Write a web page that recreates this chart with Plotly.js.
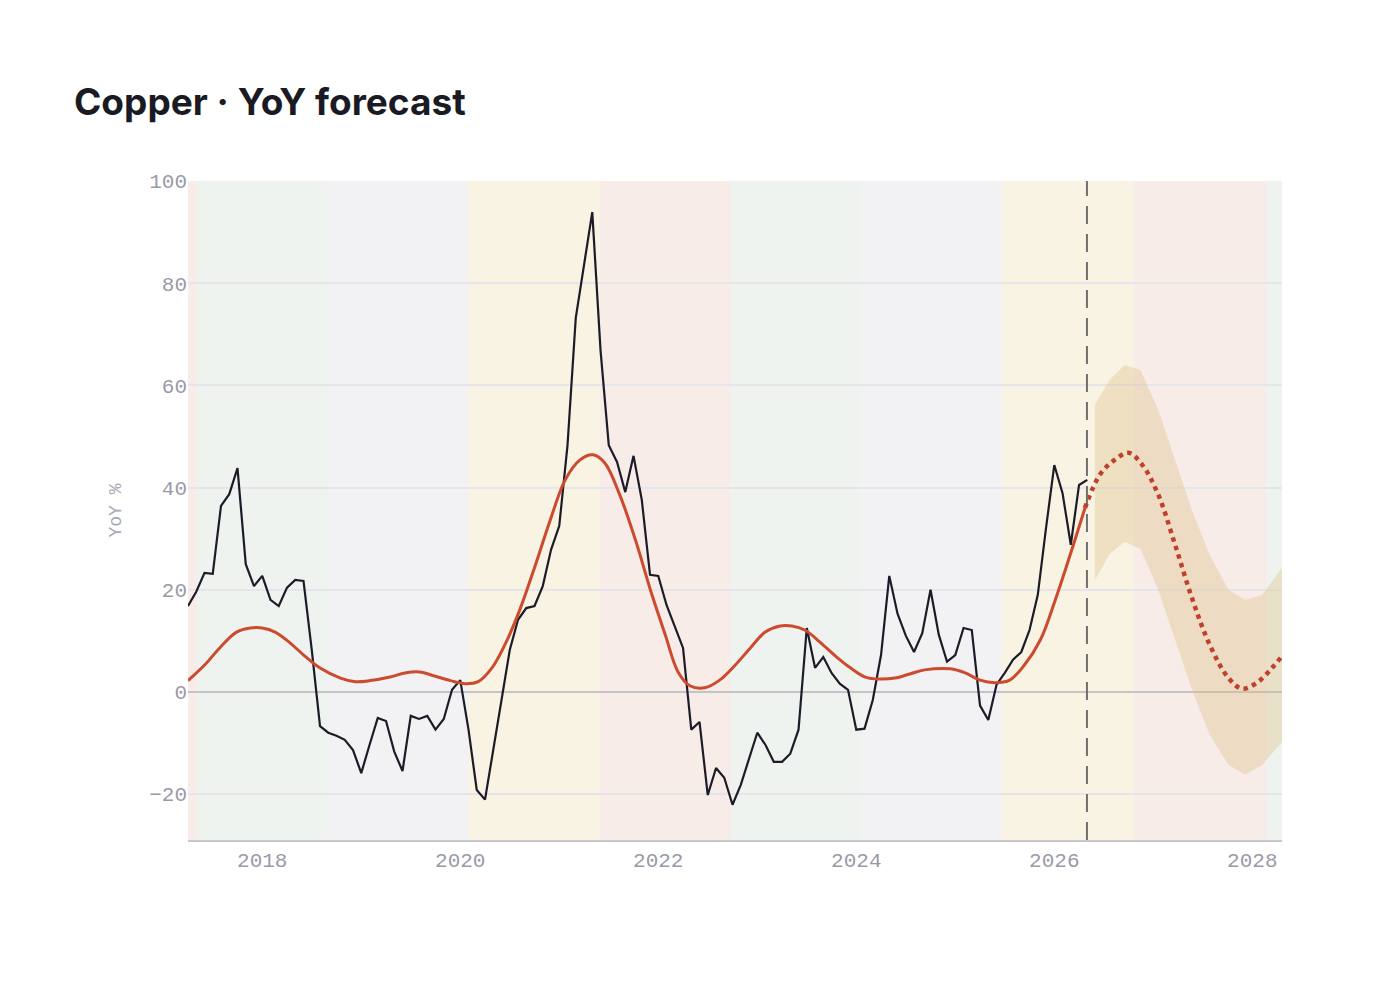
<!DOCTYPE html>
<html>
<head>
<meta charset="utf-8">
<script src="https://cdn.plot.ly/plotly-3.0.1.min.js"></script>
<style>
  body { margin: 0; background: #ffffff; }
  #chart { width: 1390px; height: 986px; }
</style>
</head>
<body>
<div id="chart"></div>
<script>
// monthly actual YoY %, starting Apr 2017
const actualStart = 2017.25;
const actualYoY = [16.8, 19.6, 23.3, 23.1, 36.4, 38.7, 43.8, 25.0, 20.7, 22.7, 18.0, 16.8,
  20.4, 21.9, 21.7, 8.2, -6.7, -8.0, -8.6, -9.4, -11.4, -15.9, -10.4, -5.1,
  -5.7, -11.7, -15.5, -4.7, -5.3, -4.7, -7.4, -5.3, 0.4, 2.3, -7.4, -19.2,
  -21.1, -11.0, -1.6, 8.2, 14.1, 16.4, 16.8, 20.7, 27.8, 32.5, 48.3, 73.2,
  83.8, 93.9, 66.9, 48.3, 45.0, 39.1, 46.2, 37.6, 22.9, 22.7, 17.0, 12.9,
  8.6, -7.4, -5.9, -20.2, -14.9, -16.8, -22.1, -18.2, -13.3, -8.0, -10.4, -13.7,
  -13.7, -12.1, -7.4, 12.5, 4.7, 6.8, 3.7, 1.6, 0.4, -7.4, -7.2, -1.6,
  7.2, 22.7, 15.3, 11.0, 7.8, 11.5, 20.0, 11.2, 5.9, 7.2, 12.5, 12.1,
  -2.7, -5.5, 1.4, 3.7, 6.3, 7.8, 12.1, 19.0, 32.1, 44.4, 38.9, 28.8, 40.5, 41.5];

// smoothed trend (fitted)
const trendX = [2017.25, 2017.42, 2017.57, 2017.74, 2017.88, 2018.0, 2018.13, 2018.28, 2018.43, 2018.58,
  2018.79, 2018.94, 2019.09, 2019.29, 2019.44, 2019.59, 2019.74, 2019.90, 2020.05, 2020.18,
  2020.32, 2020.45, 2020.60, 2020.76, 2020.91, 2021.06, 2021.21, 2021.34, 2021.46, 2021.61,
  2021.77, 2021.92, 2022.07, 2022.20, 2022.32, 2022.47, 2022.62, 2022.78, 2022.93, 2023.08,
  2023.23, 2023.35, 2023.48, 2023.63, 2023.79, 2023.94, 2024.09, 2024.24, 2024.39, 2024.54,
  2024.69, 2024.95, 2025.10, 2025.25, 2025.40, 2025.55, 2025.70, 2025.86, 2026.01, 2026.16, 2026.31];
const trendY = [2.2, 5.3, 8.6, 11.7, 12.5, 12.5, 11.7, 9.6, 7.0, 4.7,
  2.7, 2.0, 2.2, 2.9, 3.7, 3.9, 3.1, 2.2, 1.6, 2.0,
  4.7, 9.2, 16.0, 24.9, 33.7, 41.5, 45.4, 46.4, 44.8, 38.6,
  29.7, 20.0, 11.2, 3.9, 1.2, 0.8, 2.3, 5.3, 8.6, 11.7,
  12.9, 12.9, 12.1, 9.8, 7.0, 4.7, 2.9, 2.5, 2.7, 3.5,
  4.3, 4.5, 3.7, 2.3, 1.8, 2.3, 5.3, 10.2, 18.0, 26.8, 36.0];

// forecast
const fcX = [2026.31, 2026.46, 2026.61, 2026.75, 2026.89, 2027.05, 2027.22, 2027.39, 2027.57, 2027.76, 2027.90, 2028.06, 2028.20, 2028.30];
const fcY = [36.0, 42.5, 45.4, 46.8, 44.4, 38.6, 28.8, 18.4, 9.2, 2.7, 0.6, 2.0, 4.7, 7.0];
const bandX = [2026.41, 2026.56, 2026.71, 2026.87, 2027.05, 2027.22, 2027.39, 2027.57, 2027.76, 2027.93, 2028.10, 2028.30];
const bandUpper = [56.2, 61.1, 64.0, 63.0, 55.2, 45.4, 35.6, 26.8, 20.0, 18.0, 19.0, 24.3];
const bandLower = [21.9, 27.0, 29.4, 28.0, 20.0, 10.2, 0.4, -8.4, -14.3, -16.2, -14.3, -9.8];

const forecastStart = 2026.33;

// cycle phases
const phaseEdges = [2017.25, 2017.34, 2018.65, 2020.08, 2021.41, 2022.73, 2024.06, 2025.47, 2026.8, 2028.14, 2028.3];
const phaseNames = ['contraction', 'recovery', 'slowdown', 'expansion', 'contraction', 'recovery', 'slowdown', 'expansion', 'contraction', 'recovery'];
const phaseColors = {
  contraction: 'rgba(235,200,192,0.35)',
  recovery: 'rgba(205,222,210,0.35)',
  slowdown: 'rgba(215,215,225,0.33)',
  expansion: 'rgba(235,220,175,0.35)'
};

const actualX = actualYoY.map((v, i) => actualStart + i / 12);

const shapes = phaseNames.map((p, i) => ({
  type: 'rect', xref: 'x', yref: 'paper', layer: 'below',
  x0: phaseEdges[i], x1: phaseEdges[i + 1], y0: 0, y1: 1,
  fillcolor: phaseColors[p], line: { width: 0 }
}));
shapes.push({
  type: 'line', xref: 'x', yref: 'paper', x0: forecastStart, x1: forecastStart, y0: 0, y1: 1,
  line: { color: '#707070', width: 2, dash: '18px,10px' }
});

const tickFont = { family: 'Liberation Mono, monospace', size: 21, color: '#9a9aa8' };

const data = [
  { x: bandX, y: bandUpper, mode: 'lines', line: { width: 0 }, hoverinfo: 'skip', showlegend: false },
  { x: bandX, y: bandLower, mode: 'lines', line: { width: 0 }, fill: 'tonexty',
    fillcolor: 'rgba(220,190,130,0.35)', hoverinfo: 'skip', showlegend: false },
  { x: actualX, y: actualYoY, mode: 'lines', line: { color: '#1c1c28', width: 2.2 }, name: 'Actual' },
  { x: trendX, y: trendY, mode: 'lines', line: { color: '#cc4a2e', width: 3, shape: 'spline' }, name: 'Trend' },
  { x: fcX, y: fcY, mode: 'lines', line: { color: '#c0412b', width: 4.5, dash: 'dot', shape: 'spline' }, name: 'Forecast' }
];

const layout = {
  width: 1390, height: 986,
  paper_bgcolor: '#ffffff', plot_bgcolor: 'rgba(0,0,0,0)',
  margin: { l: 188, r: 108, t: 181, b: 146 },
  showlegend: false,
  title: { text: '<b>Copper · YoY forecast</b>', x: 74 / 1390, xanchor: 'left', y: 0.896, yanchor: 'middle',
    font: { family: 'Inter, sans-serif', size: 37, color: '#1a1a24' } },
  xaxis: {
    range: [2017.25, 2028.3], tickvals: [2018, 2020, 2022, 2024, 2026, 2028],
    ticktext: ['2018', '2020', '2022', '2024', '2026', '2028'],
    showgrid: false, zeroline: false, showline: true, linecolor: '#c8c8cc', linewidth: 2,
    ticks: '', tickfont: tickFont
  },
  yaxis: {
    range: [-29, 100], tickvals: [-20, 0, 20, 40, 60, 80, 100],
    gridcolor: '#e6e6ea', gridwidth: 1.5, zeroline: true, zerolinecolor: '#c4c4c8', zerolinewidth: 2,
    ticks: '', tickfont: tickFont,
    title: { text: 'YoY %', standoff: 22, font: { family: 'Liberation Mono, monospace', size: 18, color: '#a8a8b4' } }
  },
  shapes: shapes
};

Plotly.newPlot('chart', data, layout, { displayModeBar: false });
</script>
</body>
</html>
